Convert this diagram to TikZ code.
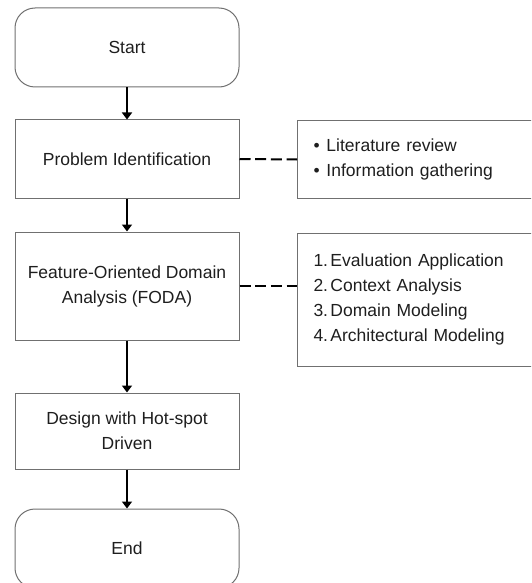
\documentclass[tikz,border=0pt]{standalone}
\usepackage{fontspec}
\setmainfont{Liberation Sans}
\usetikzlibrary{arrows.meta}
\definecolor{edgegray}{HTML}{707070}
\definecolor{inkdark}{HTML}{1E1E1E}
\newcommand{\boxfont}{\fontsize{17.5}{25}\selectfont}
\newcommand{\bul}{\makebox[13pt][l]{\textbullet}}
\newcommand{\num}[1]{\makebox[17pt][l]{#1.}}
\begin{document}
\begin{tikzpicture}[x=1pt,y=-1pt,
  stepbox/.style={draw=edgegray, line width=1pt, minimum width=224pt,
    minimum height=#1, inner sep=0pt, align=center, text=inkdark, font=\boxfont},
  stepbox/.default=78pt,
  terminal/.style={stepbox=79pt, rounded corners=20pt},
  notebox/.style={draw=edgegray, line width=1pt, anchor=north west,
    minimum height=#1, text width=231pt, inner xsep=16pt, inner ysep=0pt,
    align=left, text=inkdark, font=\boxfont},
  flow/.style={line width=2.5pt, -{Triangle[length=7pt,width=10pt]}},
  link/.style={line width=2pt, dash pattern=on 11pt off 4.7pt}]
\useasboundingbox (0,0) rectangle (531,583);
\clip (0,0) rectangle (531,583);

% main flow
\node[terminal] (start) at (127,47.5) {Start};
\node[stepbox] (prob) at (127,159) {Problem Identification};
\node[stepbox=108pt] (foda) at (127,286) {Feature-Oriented Domain\\Analysis (FODA)};
\node[stepbox=76pt] (design) at (127,431) {Design with Hot-spot\\Driven};
\node[terminal] (end) at (127,548.5) {End};

% side notes
\node[notebox=78pt] (notes1) at (297,120)
  {\bul Literature review\\\bul Information gathering};
\node[notebox=133pt] (notes2) at (297,232.5)
  {\num{1}Evaluation Application\\\num{2}Context Analysis\\\num{3}Domain Modeling\\\num{4}Architectural Modeling};

% connectors
\draw[flow] (start) -- (prob);
\draw[flow] (prob) -- (foda);
\draw[flow] (foda) -- (design);
\draw[flow] (design) -- (end);
\draw[link] (prob.east) -- (notes1.west);
\draw[link] (foda.east) -- (foda.east -| notes2.west);
\end{tikzpicture}
\end{document}
